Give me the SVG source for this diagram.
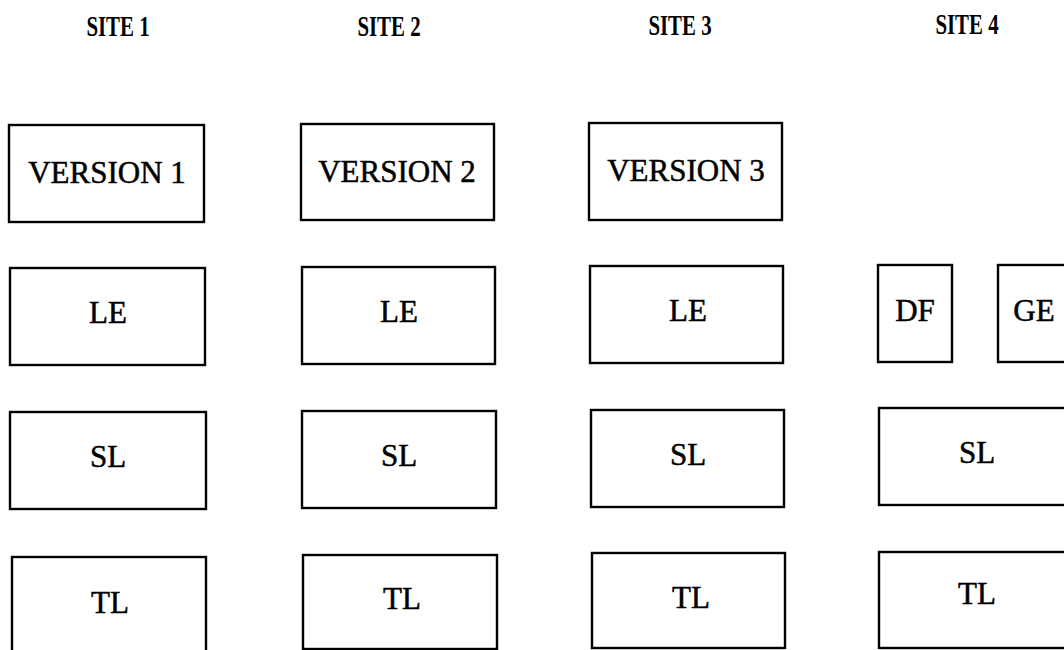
<svg xmlns="http://www.w3.org/2000/svg" width="1064" height="650" viewBox="0 0 1064 650">
<style>
rect{fill:#fff;stroke:#000;stroke-width:2.4}
text{font-family:"Liberation Serif","Times New Roman",serif;fill:#000;text-anchor:middle}
.h{font-size:29px;font-weight:bold}
.b{font-size:31px;stroke:#000;stroke-width:0.5}
</style>
<rect x="0" y="0" width="1064" height="650" style="stroke:none"/>
<g id="headers">
<text class="h" transform="translate(118,36) scale(0.72,1)">SITE 1</text>
<text class="h" transform="translate(389,36) scale(0.72,1)">SITE 2</text>
<text class="h" transform="translate(680,35) scale(0.72,1)">SITE 3</text>
<text class="h" transform="translate(967,34) scale(0.72,1)">SITE 4</text>
</g>
<g id="v1"><rect x="9" y="125" width="195" height="97"/><text class="b" x="107" y="183">VERSION 1</text></g>
<g id="v2"><rect x="301" y="124" width="193" height="96"/><text class="b" x="397" y="182">VERSION 2</text></g>
<g id="v3"><rect x="589" y="123" width="193" height="97"/><text class="b" x="686" y="181">VERSION 3</text></g>
<g id="le1"><rect x="10" y="268" width="195" height="97"/><text class="b" x="108" y="323">LE</text></g>
<g id="le2"><rect x="302" y="267" width="193" height="97"/><text class="b" x="399" y="322">LE</text></g>
<g id="le3"><rect x="590" y="266" width="193" height="97"/><text class="b" x="688" y="321">LE</text></g>
<g id="df"><rect x="878" y="265" width="74" height="97"/><text class="b" x="915" y="321">DF</text></g>
<g id="ge"><rect x="998" y="265" width="80" height="97"/><text class="b" x="1034" y="321">GE</text></g>
<g id="sl1"><rect x="10" y="412" width="196" height="97"/><text class="b" x="108" y="467">SL</text></g>
<g id="sl2"><rect x="302" y="411" width="194" height="97"/><text class="b" x="399" y="466">SL</text></g>
<g id="sl3"><rect x="591" y="410" width="193" height="97"/><text class="b" x="688" y="465">SL</text></g>
<g id="sl4"><rect x="879" y="408" width="200" height="97"/><text class="b" x="977" y="463">SL</text></g>
<g id="tl1"><rect x="12" y="557" width="194" height="100"/><text class="b" x="110" y="613">TL</text></g>
<g id="tl2"><rect x="303" y="555" width="194" height="94"/><text class="b" x="402" y="609">TL</text></g>
<g id="tl3"><rect x="592" y="553" width="193" height="95"/><text class="b" x="691" y="608">TL</text></g>
<g id="tl4"><rect x="879" y="552" width="200" height="96"/><text class="b" x="977" y="604">TL</text></g>
<g id="connectors"></g>
</svg>
